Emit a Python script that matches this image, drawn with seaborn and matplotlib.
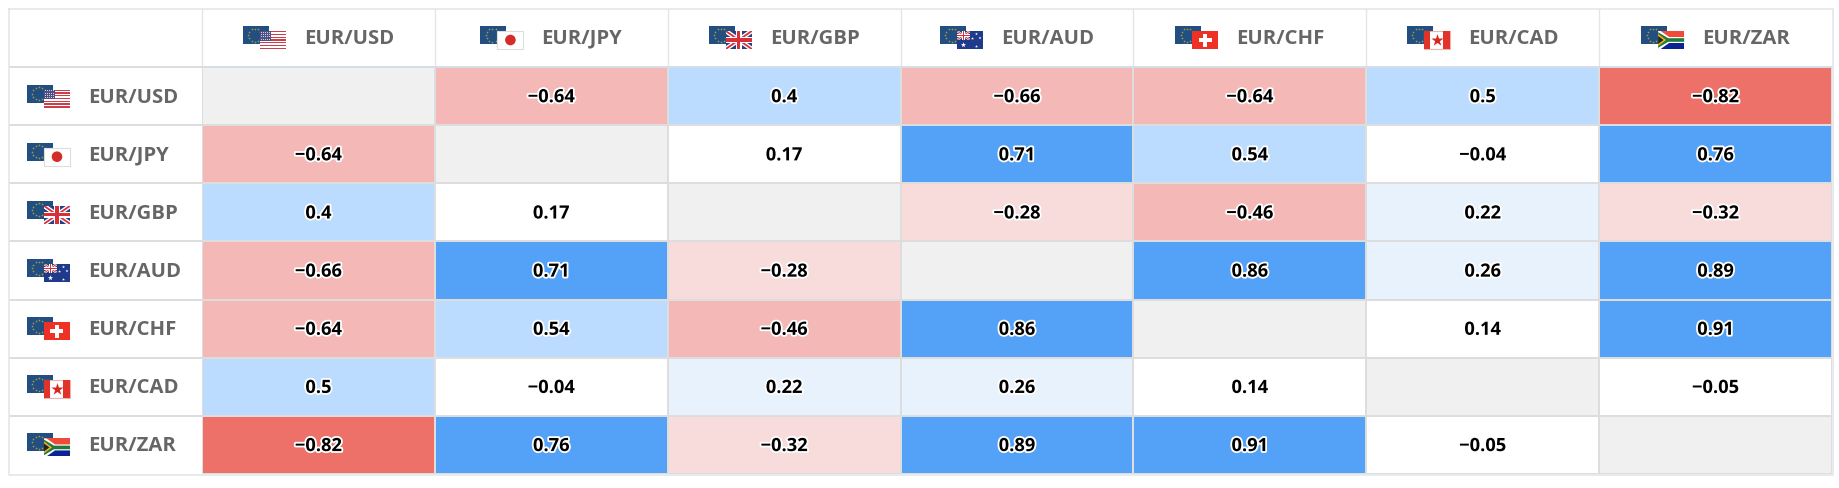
import numpy as np
import pandas as pd
import seaborn as sns
import matplotlib
matplotlib.use('Agg')
import matplotlib.pyplot as plt
import matplotlib.patheffects as pe
from matplotlib.colors import ListedColormap, BoundaryNorm
from matplotlib.patches import Rectangle, Polygon, Circle

pairs = ['EUR/USD', 'EUR/JPY', 'EUR/GBP', 'EUR/AUD', 'EUR/CHF', 'EUR/CAD', 'EUR/ZAR']
eur_usd = [np.nan, -0.64, 0.4, -0.66, -0.64, 0.5, -0.82]
eur_jpy = [-0.64, np.nan, 0.17, 0.71, 0.54, -0.04, 0.76]
eur_gbp = [0.4, 0.17, np.nan, -0.28, -0.46, 0.22, -0.32]
eur_aud = [-0.66, 0.71, -0.28, np.nan, 0.86, 0.26, 0.89]
eur_chf = [-0.64, 0.54, -0.46, 0.86, np.nan, 0.14, 0.91]
eur_cad = [0.5, -0.04, 0.22, 0.26, 0.14, np.nan, -0.05]
eur_zar = [-0.82, 0.76, -0.32, 0.89, 0.91, -0.05, np.nan]

bin_edges = [-1, -0.75, -0.4, -0.2, 0.2, 0.4, 0.7, 1]
bin_colors = ['#EE7169', '#F4B8B7', '#F8DCDC', '#FFFFFF', '#E8F2FD', '#BBDCFE', '#53A2F8']

corr_df = pd.DataFrame([eur_usd, eur_jpy, eur_gbp, eur_aud, eur_chf, eur_cad, eur_zar],
                       index=pairs, columns=pairs)
labels = corr_df.map(lambda v: '' if pd.isna(v) else str(v).replace('-', '\u2212'))

W, H = 1840, 488
LEFT, RIGHT, TOP, HEAD, BOTTOM = 202, 1832, 9, 67, 474
FLAG_W, FLAG_H = 26, 18
FONT = 'Open Sans'

fig = plt.figure(figsize=(W / 100, H / 100), dpi=100, facecolor='white')
ax = fig.add_axes([LEFT / W, (H - BOTTOM) / H, (RIGHT - LEFT) / W, (BOTTOM - HEAD) / H])

cmap = ListedColormap(bin_colors)
cmap.set_bad('#F0F0F0')
sns.heatmap(corr_df, ax=ax, cmap=cmap, norm=BoundaryNorm(bin_edges, cmap.N), cbar=False,
            annot=labels, fmt='', linewidths=1.4, linecolor='#DDDDDD',
            annot_kws=dict(color='black', fontsize=13.2, fontweight='bold', family=FONT),
            xticklabels=False, yticklabels=False)
ax.patch.set_facecolor('#F0F0F0')
for txt in ax.texts:  # White halo around the numbers, nudged down a little.
    txt.set_path_effects([pe.withStroke(linewidth=2.6, foreground='white')])
    txt.set_y(txt.get_position()[1] + 0.02)

# Overlay in pixel coordinates for the header, row labels and flags.
over = fig.add_axes([0, 0, 1, 1], facecolor='none')
over.set_xlim(0, W)
over.set_ylim(H, 0)
over.axis('off')


def box(x, y, w, h, color, z=3, clip=None):
    r = Rectangle((x, y), w, h, facecolor=color, edgecolor='none', zorder=z)
    over.add_patch(r)
    if clip is not None:
        r.set_clip_path(clip)
    return r


def draw_eu(x, y):
    box(x, y, FLAG_W, FLAG_H, '#234F80', z=3)
    t = np.arange(12) * np.pi / 6
    over.scatter(x + 12 + 6.5 * np.cos(t), y + 9 + 6.5 * np.sin(t), s=1.5, color='#9C9A50',
                 linewidths=0, zorder=3.1)


def draw_union(x, y, w, h, z):
    clip = box(x, y, w, h, '#24407F', z=z)
    for a, b in [((x, y), (x + w, y + h)), ((x, y + h), (x + w, y))]:
        line, = over.plot(*zip(a, b), color='white', lw=h / 5.5, zorder=z + 0.01, solid_capstyle='butt')
        line.set_clip_path(clip)
        line, = over.plot(*zip(a, b), color='#D8303A', lw=h / 14, zorder=z + 0.02, solid_capstyle='butt')
        line.set_clip_path(clip)
    box(x + w / 2 - h / 6, y, h / 3, h, 'white', z=z + 0.03)
    box(x, y + h / 3, w, h / 3, 'white', z=z + 0.03)
    box(x + w / 2 - h / 11, y, h / 5.5, h, '#D8303A', z=z + 0.04)
    box(x, y + h / 2 - h / 11, w, h / 5.5, '#D8303A', z=z + 0.04)


def draw_quote(code, x, y):
    w, h = FLAG_W, FLAG_H
    z = 4
    if code == 'USD':
        box(x, y, w, h, 'white', z)
        for i in range(0, 7):
            box(x, y + i * h / 6.5, w, h / 13, '#C9404A', z + 0.1)
        box(x, y, w * 0.42, h * 0.54, '#4F4F86', z + 0.2)
        for i in range(4):
            for j in range(5):
                box(x + 0.8 + j * 2.1, y + 0.8 + i * 2.3, 0.9, 0.9, '#CFCFE4', z + 0.3)
    elif code == 'JPY':
        r = Rectangle((x, y), w, h, facecolor='white', edgecolor='#DDDDDD', lw=0.8, zorder=z)
        over.add_patch(r)
        over.add_patch(Circle((x + w / 2, y + h / 2), 5.3, facecolor='#D42C26', edgecolor='none', zorder=z + 0.1))
    elif code == 'GBP':
        draw_union(x, y, w, h, z)
    elif code == 'AUD':
        box(x, y, w, h, '#1F3A8A', z)
        draw_union(x, y, w / 2, h / 2, z + 0.1)
        sx = x + np.array([6.5, 19.5, 15.5, 23, 19.5])
        sy = y + np.array([14, 15.5, 7.5, 7, 3])
        over.scatter(sx, sy, s=[16, 5, 5, 5, 5], marker='*', color='white', linewidths=0, zorder=z + 0.3)
    elif code == 'CHF':
        box(x, y, w, h, '#EE3124', z)
        box(x + w / 2 - 6.5, y + h / 2 - 2, 13, 4, 'white', z + 0.1)
        box(x + w / 2 - 2, y + h / 2 - 6.5, 4, 13, 'white', z + 0.1)
    elif code == 'CAD':
        r = Rectangle((x, y), w, h, facecolor='white', edgecolor='#EBB4B0', lw=0.8, zorder=z)
        over.add_patch(r)
        box(x, y, w * 0.25, h, '#E1332A', z + 0.1)
        box(x + w * 0.75, y, w * 0.25, h, '#E1332A', z + 0.1)
        over.scatter([x + w / 2], [y + h / 2 - 0.5], s=85, marker='*', color='#D7281F', linewidths=0, zorder=z + 0.2)
    elif code == 'ZAR':
        box(x, y, w, h / 2, '#EE4B3A', z)
        box(x, y + h / 2, w, h / 2, '#0A2390', z)
        over.add_patch(Polygon([(x, y), (x + 2.5, y), (x + 11, y + 6), (x + w, y + 6), (x + w, y + 12),
                                (x + 11, y + 12), (x + 2.5, y + h), (x, y + h)],
                               facecolor='white', edgecolor='none', zorder=z + 0.1))
        over.add_patch(Polygon([(x, y + 1.2), (x + 10, y + 7.2), (x + w, y + 7.2), (x + w, y + 10.8),
                                (x + 10, y + 10.8), (x, y + h - 1.2)],
                               facecolor='#1F7A3C', edgecolor='none', zorder=z + 0.2))
        over.add_patch(Polygon([(x, y + 3), (x + 8, y + 9), (x, y + 15)],
                               facecolor='#F0B520', edgecolor='none', zorder=z + 0.3))
        over.add_patch(Polygon([(x, y + 5), (x + 5.5, y + 9), (x, y + 13)],
                               facecolor='#222222', edgecolor='none', zorder=z + 0.4))


def draw_pair(pair, x, y):
    draw_eu(x, y)
    draw_quote(pair.split('/')[1], x + 17, y + 5)


def pair_text(pair, x, y):
    return over.text(x, y, pair, color='#666666', fontsize=14.6, fontweight='bold', family=FONT,
                     ha='left', va='center', zorder=5)


# Table frame and header separators.
frame = '#E0E6E8'
over.plot([9.5, 9.5, RIGHT + 1, RIGHT + 1, 9.5], [8.5, BOTTOM + 1, BOTTOM + 1, 8.5, 8.5], color=frame, lw=1.1, zorder=6)
col_w = (RIGHT - LEFT) / len(pairs)
row_h = (BOTTOM - HEAD) / len(pairs)
for i in range(len(pairs)):
    over.plot([LEFT + i * col_w] * 2, [TOP, HEAD], color='#E3E6E8', lw=1, zorder=2)
    over.plot([10, LEFT], [HEAD + i * row_h] * 2, color='#DDDDDD', lw=1.4, zorder=2)
over.plot([LEFT, RIGHT], [HEAD, HEAD], color='#D5DDE8', lw=1.4, zorder=2)

renderer = fig.canvas.get_renderer()
for i, pair in enumerate(pairs):
    # Header: flag and text centred together in the cell.
    head_y = (TOP + HEAD) / 2 + 0.5
    txt = pair_text(pair, 0, head_y)
    tw = txt.get_window_extent(renderer).width
    start = LEFT + (i + 0.5) * col_w - (43 + 18 + tw) / 2
    txt.set_x(start + 43 + 18)
    draw_pair(pair, start, 26)
    # Row label.
    row_y = HEAD + (i + 0.5) * row_h
    pair_text(pair, 88, row_y + 1.5)
    draw_pair(pair, 27, row_y - 11.5)

fig.savefig('out.png', dpi=100)
